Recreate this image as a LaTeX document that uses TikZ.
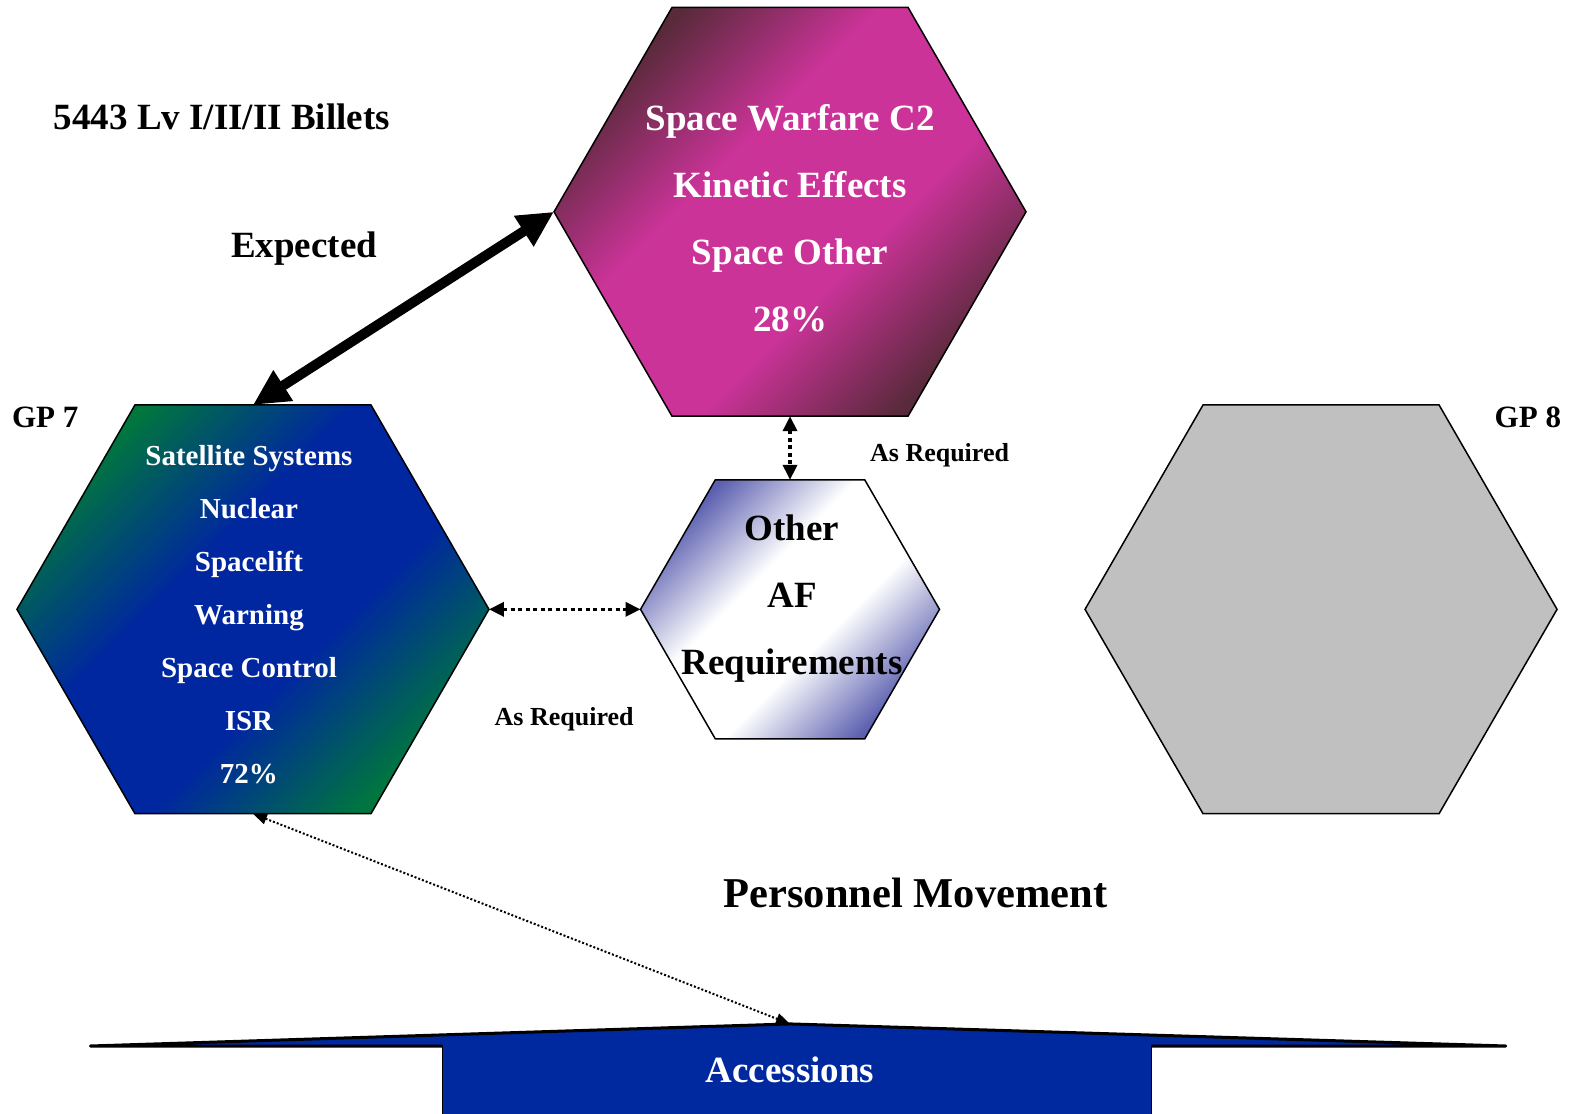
\documentclass[tikz,border=0pt]{standalone}
\usepackage{fontspec}
\setmainfont{Liberation Serif}
\usetikzlibrary{shapes.geometric,arrows.meta}
\definecolor{mag}{RGB}{204,51,153}
\definecolor{magdark}{RGB}{88,42,58}
\definecolor{gpblue}{RGB}{0,38,160}
\definecolor{gpgreen}{RGB}{0,118,62}
\definecolor{afpurple}{RGB}{92,96,176}
\definecolor{accblue}{RGB}{0,41,160}
\definecolor{gpgray}{RGB}{192,192,192}
\pgfdeclareverticalshading{hexmagsh}{100bp}{color(0bp)=(magdark); color(25bp)=(magdark); color(41bp)=(mag); color(59bp)=(mag); color(75bp)=(magdark); color(100bp)=(magdark)}
\pgfdeclareverticalshading{hexbluesh}{100bp}{color(0bp)=(gpgreen); color(25bp)=(gpgreen); color(42bp)=(gpblue); color(58bp)=(gpblue); color(75bp)=(gpgreen); color(100bp)=(gpgreen)}
\pgfdeclareverticalshading{hexwhitesh}{100bp}{color(0bp)=(afpurple); color(25bp)=(afpurple); color(42bp)=(white); color(58bp)=(white); color(75bp)=(afpurple); color(100bp)=(afpurple)}
\begin{document}
\begin{tikzpicture}[x=1.00383pt,y=-1.00383pt,
  hex/.style={regular polygon, regular polygon sides=6, inner sep=0pt, outer sep=0pt, draw=black, line width=1.5pt},
  lbl/.style={font=\bfseries\fontsize{#1}{#1}\selectfont, inner sep=0pt, anchor=base},
  blk/.style={inner sep=0pt, align=center},
  dotarrow/.style={line width=3.5pt, dash pattern=on 4pt off 3.5pt, {Triangle[length=15pt,width=14pt]}-{Triangle[length=15pt,width=14pt]}},
  thinarrow/.style={line width=2pt, dash pattern=on 2pt off 2pt, {Triangle[length=14pt,width=11pt]}-{Triangle[length=14pt,width=11pt]}},
  bigarrow/.style={line width=10pt, {Triangle[length=36pt,width=34pt]}-{Triangle[length=36pt,width=34pt]}}
]
\useasboundingbox (0,0) rectangle (1568,1109);

% hexagons
\node[hex, minimum size=472pt, shading=hexmagsh, shading angle=45] (sw) at (787,211) {};
\node[hex, minimum size=472pt, shading=hexbluesh, shading angle=45] (gp7) at (252,607) {};
\node[hex, minimum size=472pt, fill=gpgray] (gp8) at (1316,607) {};
\node[hex, minimum size=299pt, shading=hexwhitesh, shading angle=45] (af) at (787,607) {};

% hexagon texts
\node[blk, text=white, font=\bfseries\fontsize{37}{67}\selectfont] (swt) at (787,217)
  {Space Warfare C2\\Kinetic Effects\\Space Other\\28\%};
\node[blk, text=white, font=\bfseries\fontsize{29}{53}\selectfont] (gp7t) at (248,612)
  {Satellite Systems\\Nuclear\\Spacelift\\Warning\\Space Control\\ISR\\72\%};
\node[blk, text=black, font=\bfseries\fontsize{37}{67}\selectfont] (aft) at (789,596)
  {Other\\AF\\Requirements};

% accessions shape
\coordinate (al) at (90,1042);
\coordinate (ap) at (787,1020);
\coordinate (ar) at (1500,1042);
\coordinate (arl) at (441,1042);
\coordinate (arr) at (1147,1042);
\coordinate (abl) at (441,1115);
\coordinate (abr) at (1147,1115);
\fill[accblue] (al) -- (ap) -- (ar) -- (arr) -- (abr) -- (abl) -- (arl) -- cycle;
\draw[line width=3pt, line join=round] (arl) -- (al) -- (ap) -- (ar) -- (arr);
\draw[line width=1.5pt] (arl) -- (abl);
\draw[line width=1.5pt] (arr) -- (abr);
\node[lbl=37, text=white] (acc) at (787,1078) {Accessions};

% free labels
\node[lbl=37] (billets) at (221,129) {5443 Lv I/II/II Billets};
\node[lbl=37] (expected) at (303,257) {Expected};
\node[lbl=31] (gp7l) at (45,426) {GP 7};
\node[lbl=31] (gp8l) at (1522,426) {GP 8};
\node[lbl=26] (asreq1) at (936,460) {As Required};
\node[lbl=26] (asreq2) at (562,723) {As Required};
\node[lbl=42.5] (pm) at (912,904) {Personnel Movement};

% connectors
\draw[bigarrow] (gp7.north) -- (sw.west);
\draw[dotarrow] (sw.south) -- (af.north);
\draw[dotarrow] (gp7.east) -- (af.west);
\draw[thinarrow] (gp7.south) -- (ap);
\end{tikzpicture}
\end{document}
